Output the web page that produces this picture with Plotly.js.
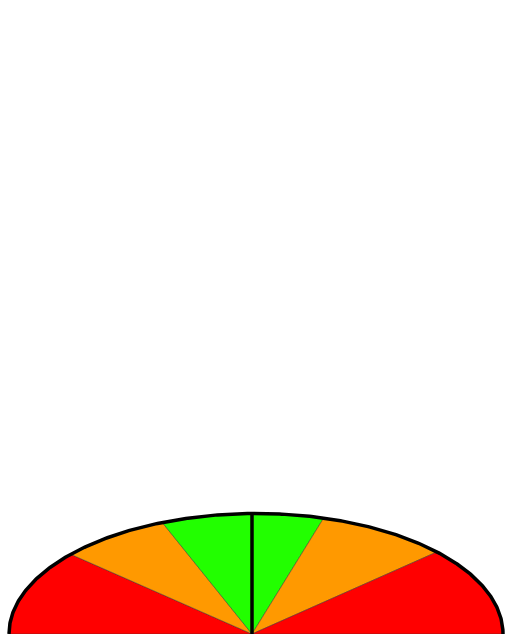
<!DOCTYPE html>
<html>
<head>
<meta charset="utf-8">
<script src="https://cdn.plot.ly/plotly-3.0.1.min.js"></script>
<style>html,body{margin:0;padding:0;background:#fff;}#chart{width:512px;height:634px;}</style>
</head>
<body>
<div id="chart"></div>
<script>
// Gauge bands: boundaries in degrees (180 = left, 0 = right)
const bandEdges = [180, 138.6, 112.3, 74.1, 42.9, 0];
const bandColors = ['#ff0000', '#ff9900', '#22ff00', '#ff9900', '#ff0000'];
const needleAngle = 90;
const apexX = -0.0162; // pivot of wedges / needle
const radius = 1;

function arcPoints(a0, a1) {
  const xs = [], ys = [];
  const n = Math.max(2, Math.ceil(Math.abs(a0 - a1) * 2));
  for (let i = 0; i <= n; i++) {
    const a = (a0 + (a1 - a0) * i / n) * Math.PI / 180;
    xs.push(radius * Math.cos(a));
    ys.push(radius * Math.sin(a));
  }
  return [xs, ys];
}

const traces = [];
for (let i = 0; i < bandColors.length; i++) {
  const [ax, ay] = arcPoints(bandEdges[i], bandEdges[i + 1]);
  traces.push({
    type: 'scatter', mode: 'lines',
    x: [apexX, ...ax, apexX], y: [0, ...ay, 0],
    fill: 'toself', fillcolor: bandColors[i],
    line: {color: 'rgba(50,50,50,0.75)', width: 0.6},
    hoverinfo: 'skip', showlegend: false
  });
}
// outline
const [ox, oy] = arcPoints(180, 0);
traces.push({
  type: 'scatter', mode: 'lines', x: ox, y: oy,
  line: {color: '#000', width: 3.5}, hoverinfo: 'skip', showlegend: false
});
// needle
const na = needleAngle * Math.PI / 180;
traces.push({
  type: 'scatter', mode: 'lines',
  x: [apexX, apexX + Math.cos(na) * radius], y: [0, Math.sin(na) * radius],
  line: {color: '#000', width: 3.5}, hoverinfo: 'skip', showlegend: false
});

const layout = {
  width: 512, height: 634,
  margin: {l: 0, r: 0, t: 0, b: 0, pad: 0},
  paper_bgcolor: '#fff', plot_bgcolor: '#fff',
  xaxis: {range: [-1.0364, 1.0364], visible: false, fixedrange: true},
  yaxis: {range: [0, 5.26], visible: false, fixedrange: true},
  showlegend: false
};
Plotly.newPlot('chart', traces, layout, {displayModeBar: false, staticPlot: true});
</script>
</body>
</html>
